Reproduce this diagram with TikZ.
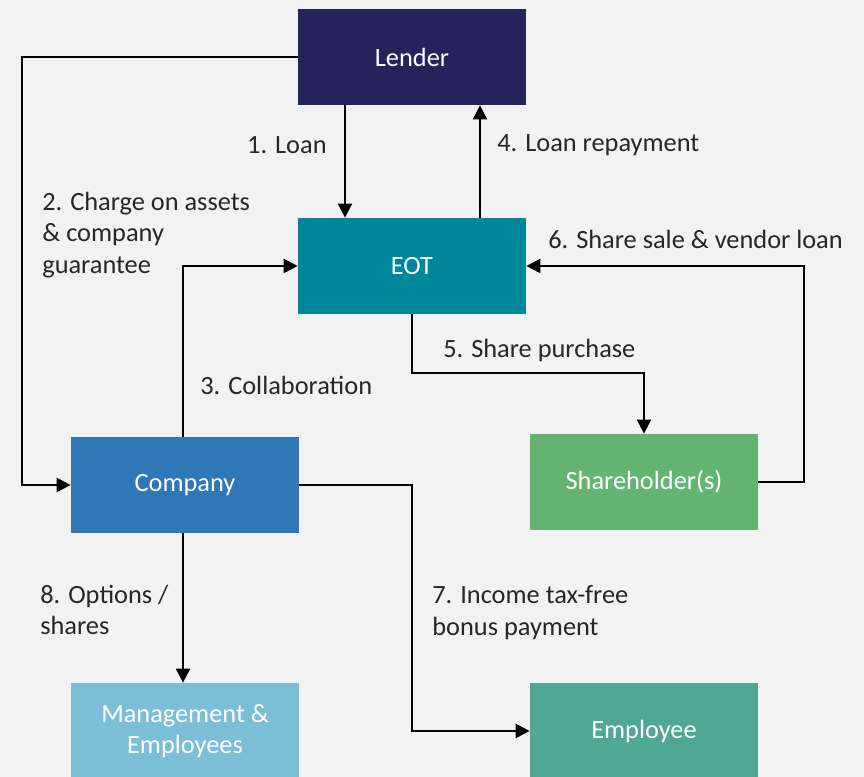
\documentclass[tikz,border=0pt]{standalone}
\usepackage{fontspec}
\setmainfont{Carlito}
\usepackage{tikz}
\usetikzlibrary{calc}
\usetikzlibrary{arrows.meta}
\definecolor{bg}{RGB}{242,242,242}
\definecolor{lendercol}{RGB}{37,36,90}
\definecolor{eotcol}{RGB}{0,134,154}
\definecolor{compcol}{RGB}{47,119,183}
\definecolor{sharecol}{RGB}{100,180,115}
\definecolor{mgmtcol}{RGB}{123,190,216}
\definecolor{empcol}{RGB}{79,167,150}
\tikzset{
  blk/.style={rectangle, minimum width=4.56cm, minimum height=1.92cm,
    inner sep=0, text=white, align=center},
  arr/.style={line width=1.2pt, -{Triangle[length=8pt,width=8pt]}},
  lbl/.style={inner sep=0, align=left, text=black!85}
}

\begin{document}
\begin{tikzpicture}[font=\fontsize{15}{18}\selectfont]
  \fill[bg] (0,0) rectangle (17.28,15.54);
  \useasboundingbox (0,0) rectangle (17.28,15.54);

  \node[blk, fill=lendercol] (lender) at (8.24,14.40) {Lender};
  \node[blk, fill=eotcol] (eot) at (8.24,10.22) {EOT};
  \node[blk, fill=compcol] (company) at (3.70,5.84) {Company};
  \node[blk, fill=sharecol] (share) at (12.88,5.90) {Shareholder(s)};
  \node[blk, fill=mgmtcol] (mgmt) at (3.70,0.92) {Management \&\\Employees};
  \node[blk, fill=empcol] (employee) at (12.88,0.92) {Employee};

  \draw[arr] ([xshift=-1.34cm]lender.south) -- ([xshift=-1.34cm]eot.north);
  \draw[arr] ([xshift=1.36cm]eot.north) -- ([xshift=1.36cm]lender.south);
  \draw[arr] (lender.west) -- ++(-5.52,0) |- (company.west);
  \draw[arr] ([xshift=-0.04cm]company.north) |- (eot.west);
  \draw[arr] (eot.south) -- ++(0,-1.18) -| (share.north);
  \draw[arr] (share.east) -- ++(0.92,0) |- (eot.east);
  \draw[arr] (company.east) -- (eot.south |- company.east) |- (employee.west);
  \draw[arr] ([xshift=-0.04cm]company.south) -- ([xshift=-0.04cm]mgmt.north);

  \node[lbl, anchor=east] (l1) at (6.54,12.64) {1. Loan};
  \node[lbl, anchor=west] (l2) at (0.84,10.84) {2. Charge on assets\\\& company\\guarantee};
  \node[lbl, anchor=west] (l3) at (4.00,7.84) {3. Collaboration};
  \node[lbl, anchor=west] (l4) at (9.94,12.64) {4. Loan repayment};
  \node[lbl, anchor=west] (l5) at (8.86,8.54) {5. Share purchase};
  \node[lbl, anchor=west] (l6) at (10.96,10.76) {6. Share sale \& vendor loan};
  \node[lbl, anchor=west] (l7) at (8.64,3.29) {7. Income tax-free\\bonus payment};
  \node[lbl, anchor=west] (l8) at (0.80,3.34) {8. Options /\\shares};
\end{tikzpicture}
\end{document}
